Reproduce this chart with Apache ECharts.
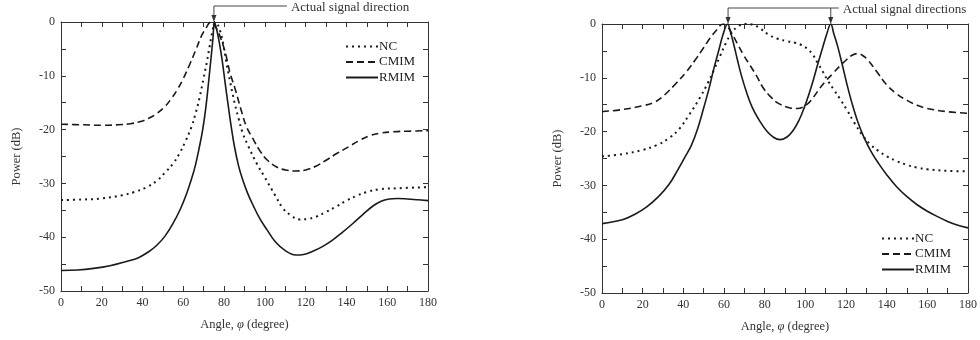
<!DOCTYPE html>
<html>
<head>
<meta charset="utf-8">
<script src="https://cdn.jsdelivr.net/npm/echarts@6/dist/echarts.min.js"></script>
<style>html,body{margin:0;padding:0;background:#fff}#chart{width:980px;height:340px}</style>
</head>
<body>
<div id="chart"></div>
<script>
// names and annotations
var seriesNames = ['NC', 'CMIM', 'RMIM'];
var arrowAnglesL = [75];
var arrowAnglesR = [62, 112.5];
var noteL = 'Actual signal direction';
var noteR = 'Actual signal directions';

// left panel: one signal
var ncLAngle = [0, 10, 20, 30, 36, 42, 47, 51, 55, 58, 61, 64, 66, 68, 70, 71.5, 73, 74.5, 75.5, 76.5, 78, 79.5, 81, 83, 85, 87, 89, 92, 96, 100, 105, 109, 113, 117, 121, 125, 130, 135, 140, 145, 150, 156, 165, 180];
var ncLPower = [-33.1, -33, -32.8, -32.2, -31.6, -30.7, -29.5, -28, -26.3, -24.5, -22.2, -19.5, -17, -14, -10.3, -7.5, -4.3, -1.3, 0, -0.2, -1.6, -4, -7.3, -11.2, -14.8, -17.8, -20.5, -23.2, -26.3, -28.9, -32.2, -34.7, -36, -36.7, -36.6, -36.2, -35.3, -34.3, -33.2, -32.3, -31.6, -31.1, -30.9, -30.7];

var cmimLAngle = [0, 10, 20, 28, 34, 39, 43, 47, 51, 54, 57, 60, 63, 66, 69, 71, 73.5, 75.5, 77.5, 79.5, 81, 83, 85.3, 88.6, 91, 94, 97.5, 101, 106, 110, 115, 120, 125, 130, 135, 141, 146, 151, 156, 163, 170, 180];
var cmimLPower = [-19, -19.1, -19.2, -19.1, -18.9, -18.5, -17.9, -17, -15.7, -14.3, -12.6, -10.5, -8, -5.3, -2.5, -1.2, 0, -0.8, -2.2, -4.3, -6.3, -9.6, -12.3, -16.7, -19.5, -21.6, -23.9, -25.6, -27, -27.5, -27.7, -27.5, -26.8, -25.7, -24.5, -23.2, -22.1, -21.2, -20.7, -20.4, -20.3, -20.2];

var rmimLAngle = [0, 8, 16, 24, 32, 38, 43, 47, 51, 55, 58.5, 61.5, 64, 66, 68, 69.5, 71, 72.3, 73.5, 74.5, 75.3, 76.3, 77.5, 79, 80.5, 82, 83.5, 85, 87, 89, 91.5, 94.5, 97.6, 101, 105, 110, 115, 119, 123.5, 128, 133, 138, 143, 148, 153, 157, 161, 165, 170, 175, 180];
var rmimLPower = [-46.2, -46.1, -45.8, -45.3, -44.5, -43.8, -42.7, -41.5, -39.8, -37.4, -34.8, -32, -29.2, -26.5, -23, -20, -16, -11.5, -7, -3.2, 0, -1.3, -3.5, -7, -11.3, -15.5, -19.5, -23, -26.6, -29.2, -31.8, -34.3, -36.6, -38.6, -40.8, -42.5, -43.3, -43.2, -42.6, -41.8, -40.6, -39.1, -37.5, -35.8, -34.2, -33.3, -32.9, -32.8, -32.9, -33.05, -33.2];

// right panel: two signals
var ncRAngle = [0, 10, 20, 27, 33, 38, 43, 48, 52, 55, 58, 61, 64, 67, 70, 74, 78, 82, 86, 91, 95, 98, 101, 103.5, 106, 108.5, 111, 114, 117, 120.5, 124, 128, 132, 136, 140, 145, 150, 155, 160, 170, 180];
var ncRPower = [-24.6, -24.2, -23.4, -22.5, -21.2, -19.5, -16.8, -13.8, -11, -8.6, -6, -3.5, -1.5, -0.4, 0, -0.1, -0.9, -2, -2.7, -3.2, -3.5, -3.9, -4.6, -5.6, -7.2, -8.8, -10.5, -12.2, -13.9, -16, -18.3, -20.6, -22.4, -23.6, -24.6, -25.5, -26.2, -26.7, -27, -27.3, -27.4];

var cmimRAngle = [0, 10, 20, 26, 31, 36, 41.7, 46, 49.8, 53, 56.4, 59.5, 61.5, 63.8, 66.5, 69.5, 73, 76.1, 79, 82.6, 87, 92.5, 96, 100.7, 104, 107.2, 110.5, 113.8, 117, 120.4, 123, 125.5, 128, 131, 135, 140, 145, 150, 155, 160, 170, 180];
var cmimRPower = [-16.3, -15.9, -15.2, -14.5, -13.1, -11.2, -8.8, -6.6, -4.5, -2.7, -1.1, 0, -0.4, -1.7, -3.6, -5.7, -7.8, -9.7, -11.7, -13.4, -14.8, -15.6, -15.7, -15, -13.6, -11.9, -10.4, -9.1, -7.8, -6.6, -5.8, -5.5, -5.8, -6.8, -8.8, -11.3, -13, -14.2, -15.1, -15.7, -16.3, -16.6];

var rmimRAngle = [0, 10, 16, 22, 28, 33, 37, 41, 44, 47, 50, 52.5, 55, 57.5, 59.5, 61.8, 63.2, 64.8, 66.5, 68.5, 71, 74, 77.5, 81, 84.5, 87.6, 91, 94, 97, 99.5, 101.8, 104, 106.3, 108.5, 110.5, 112.5, 114, 116, 118, 120.4, 123, 126, 129, 132.5, 136, 140, 145, 150, 155, 160, 165, 170, 175, 180];
var rmimRPower = [-37.1, -36.4, -35.4, -34, -32, -29.8, -27.3, -24.6, -22.5, -19.5, -15.6, -12.2, -8.3, -4.8, -2, 0, -1.5, -3.8, -6.5, -9.5, -12.6, -15.6, -18, -19.9, -21.1, -21.5, -21, -19.8, -17.8, -15.5, -13, -10.3, -7.2, -4.4, -1.9, 0, -1.8, -4.3, -7.3, -11.1, -14.8, -18.4, -21.2, -23.8, -25.9, -28, -30.3, -32.1, -33.6, -34.8, -35.8, -36.7, -37.4, -37.9];

var ink = '#1a1a1a';
var serif = 'Liberation Serif';
var dashTypes = [[2, 4], [7, 4], 'solid'];
var dashWidths = [2, 1.6, 1.6];

function pairs(xs, ys) {
    return xs.map(function (x, i) { return [x, ys[i]]; });
}

function xAxes(gridIndex) {
    var base = {
        gridIndex: gridIndex, type: 'value', min: 0, max: 180, interval: 20,
        axisLine: { onZero: false, lineStyle: { color: '#333', width: 1 } },
        axisTick: { inside: true, length: 5, lineStyle: { color: '#333' } },
        minorTick: { show: true, splitNumber: 2, length: 5, lineStyle: { color: '#333' } },
        splitLine: { show: false },
        axisLabel: { fontFamily: serif, fontSize: 12, color: '#333', margin: 6 }
    };
    var bottom = Object.assign({}, base, {
        position: 'bottom',
        name: 'Angle, {i|φ} (degree)', nameLocation: 'middle', nameGap: 27,
        nameTextStyle: { fontFamily: serif, fontSize: 12.5, color: '#333', rich: { i: { fontFamily: serif, fontSize: 12.5, fontStyle: 'italic', color: '#333' } } }
    });
    var top = Object.assign({}, base, { position: 'top', axisLabel: { show: false } });
    return [bottom, top];
}

function yAxes(gridIndex) {
    var base = {
        gridIndex: gridIndex, type: 'value', min: -50, max: 0, interval: 10,
        axisLine: { onZero: false, lineStyle: { color: '#333', width: 1 } },
        axisTick: { inside: true, length: 5, lineStyle: { color: '#333' } },
        minorTick: { show: true, splitNumber: 2, length: 5, lineStyle: { color: '#333' } },
        splitLine: { show: false },
        axisLabel: { fontFamily: serif, fontSize: 12, color: '#333', margin: 6 }
    };
    var left = Object.assign({}, base, {
        position: 'left',
        name: 'Power (dB)', nameLocation: 'middle', nameGap: 38,
        nameTextStyle: { fontFamily: serif, fontSize: 12.5, color: '#333' }
    });
    var right = Object.assign({}, base, { position: 'right', axisLabel: { show: false } });
    return [left, right];
}

function makeSeries(axisIndex, sets) {
    return sets.map(function (d, i) {
        return {
            name: seriesNames[i], type: 'line',
            xAxisIndex: axisIndex, yAxisIndex: axisIndex,
            data: pairs(d[0], d[1]),
            symbol: 'none', smooth: 0.4, clip: true,
            lineStyle: { color: ink, width: dashWidths[i], type: dashTypes[i] },
            itemStyle: { color: ink }
        };
    });
}

var leftSets = [[ncLAngle, ncLPower], [cmimLAngle, cmimLPower], [rmimLAngle, rmimLPower]];
var rightSets = [[ncRAngle, ncRPower], [cmimRAngle, cmimRPower], [rmimRAngle, rmimRPower]];

var legendBase = {
    orient: 'vertical', itemWidth: 32, itemHeight: 14, itemGap: 2.5,
    itemStyle: { opacity: 0 },
    textStyle: { fontFamily: serif, fontSize: 13, color: '#222', padding: [0, 0, 0, -4] },
    data: seriesNames
};

var myChart = echarts.init(document.getElementById('chart'));

myChart.setOption({
    animation: false,
    backgroundColor: '#fff',
    grid: [
        { left: 61, top: 22, width: 367, height: 269 },
        { left: 602, top: 24, width: 366, height: 269 }
    ],
    xAxis: xAxes(0).concat(xAxes(1)),
    yAxis: yAxes(0).concat(yAxes(1)),
    legend: [
        Object.assign({}, legendBase, { left: 340, top: 35 }),
        Object.assign({}, legendBase, { left: 876, top: 227 })
    ],
    series: makeSeries(0, leftSets).concat(makeSeries(2, rightSets))
});

// arrows to the true directions, placed through the axes
function annotate(axisIndex, angles, lineY, textGap, label) {
    var els = [];
    var pts = angles.map(function (a) {
        return myChart.convertToPixel({ xAxisIndex: axisIndex, yAxisIndex: axisIndex }, [a, 0]);
    });
    pts.forEach(function (p) {
        els.push({ type: 'line', shape: { x1: p[0], y1: lineY, x2: p[0], y2: p[1] - 6 }, style: { stroke: '#444', lineWidth: 1 } });
        els.push({ type: 'polygon', shape: { points: [[p[0] - 2.5, p[1] - 7], [p[0] + 2.5, p[1] - 7], [p[0], p[1]]] }, style: { fill: '#333' } });
    });
    var last = pts[pts.length - 1][0];
    els.push({ type: 'line', shape: { x1: pts[0][0], y1: lineY, x2: last + textGap - 4, y2: lineY }, style: { stroke: '#444', lineWidth: 1 } });
    els.push({ type: 'text', x: last + textGap, y: lineY + 1.5, style: { text: label, font: '13px "Liberation Serif"', fill: '#333', verticalAlign: 'middle' } });
    return els;
}

myChart.setOption({
    graphic: annotate(0, arrowAnglesL, 6, 77, noteL).concat(annotate(2, arrowAnglesR, 8, 12, noteR))
});
</script>
</body>
</html>
